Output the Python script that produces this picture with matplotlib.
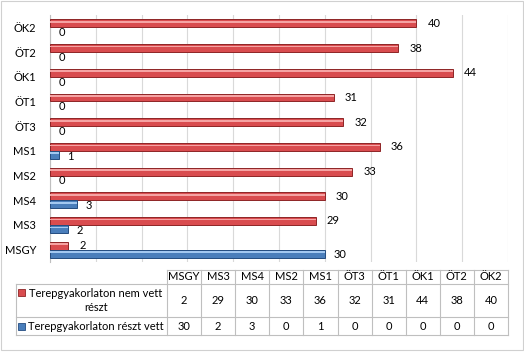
import matplotlib
matplotlib.use("Agg")
import matplotlib.pyplot as plt
from matplotlib.patches import Rectangle
from matplotlib.lines import Line2D

categories = ["MSGY", "MS3", "MS4", "MS2", "MS1", "ÖT3", "ÖT1", "ÖK1", "ÖT2", "ÖK2"]
not_attended = [2, 29, 30, 33, 36, 32, 31, 44, 38, 40]
attended = [30, 2, 3, 0, 1, 0, 0, 0, 0, 0]
series_names = ["Terepgyakorlaton nem vett\nrészt", "Terepgyakorlaton részt vett"]

plt.rcParams['font.family'] = ['Lato', 'DejaVu Sans']
FS = 8

W, H = 524, 352
fig = plt.figure(figsize=(W / 100, H / 100), dpi=100)

def fx(px):
    return px / W

def fy(py):
    return 1 - py / H

# main axes in pixel box
left, right, top, bottom = 50, 508, 15, 262
ax = fig.add_axes([fx(left), fy(bottom), fx(right - left), (bottom - top) / H])

red, red_edge, red_hi = "#D94C4F", "#8E2426", "#F5A3A3"
blue, blue_edge, blue_hi = "#4A7EBB", "#244C80", "#A3C8F0"

n = len(categories)
ys = list(range(n))
bh = 0.32
y_red = [y + bh / 2 for y in ys]
y_blue = [y - bh / 2 for y in ys]

def draw(yv, vals, col, ec, hi):
    lw = [0.7 if v > 0 else 0 for v in vals]
    ax.barh(yv, vals, height=bh, color=col, edgecolor=ec, linewidth=lw, zorder=3)
    ax.barh([y + 0.06 for y in yv], vals, height=bh * 0.22, color=hi, linewidth=0, zorder=4)

draw(y_red, not_attended, red, red_edge, red_hi)
draw(y_blue, attended, blue, blue_edge, blue_hi)

for y, v in zip(y_red, not_attended):
    ax.annotate(str(v), (v, y), xytext=(8, 0), textcoords="offset points",
                va="center", ha="left", fontsize=FS, color="#000000")
for y, v in zip(y_blue, attended):
    ax.annotate(str(v), (v, y), xytext=(6, -1), textcoords="offset points",
                va="center", ha="left", fontsize=FS, color="#000000")

ax.set_xlim(0, 50)
ax.set_ylim(-0.5, n - 0.5)
ax.set_xticks(range(0, 51, 5))
ax.set_xticklabels([])
ax.tick_params(axis="x", length=0)
ax.set_yticks(ys)
ax.set_yticklabels(categories, fontsize=FS)
ax.tick_params(axis="y", length=0, pad=10)
ax.grid(axis="x", color="#D9D9D9", linewidth=0.8, zorder=0)
for s in ["top", "right", "bottom"]:
    ax.spines[s].set_visible(False)
ax.spines["left"].set_color("#BFBFBF")
ax.spines["left"].set_linewidth(0.8)
ax.set_facecolor("none")

# data table
grid_c = "#BFBFBF"
tx0, tx1 = 16, 167
xr = 508
col_w = (xr - tx1) / n
ty = [270, 284, 317, 335]

def hline(x0, x1, y):
    fig.add_artist(Line2D([fx(x0), fx(x1)], [fy(y), fy(y)], color=grid_c, linewidth=0.8))

def vline(x, y0, y1):
    fig.add_artist(Line2D([fx(x), fx(x)], [fy(y0), fy(y1)], color=grid_c, linewidth=0.8))

hline(tx1, xr, ty[0])
for yy in ty[1:]:
    hline(tx0, xr, yy)
vline(tx0, ty[1], ty[3])
for i in range(n + 1):
    vline(tx1 + i * col_w, ty[0], ty[3])

for i, c in enumerate(categories):
    cx = tx1 + (i + 0.5) * col_w
    fig.text(fx(cx), fy((ty[0] + ty[1]) / 2), c, ha="center", va="center", fontsize=FS)
    fig.text(fx(cx), fy((ty[1] + ty[2]) / 2), str(not_attended[i]), ha="center", va="center", fontsize=FS)
    fig.text(fx(cx), fy((ty[2] + ty[3]) / 2), str(attended[i]), ha="center", va="center", fontsize=FS)

# legend keys and row labels
for (row_top, row_bot), name, col, ec in [((ty[1], ty[2]), series_names[0], red, red_edge),
                                          ((ty[2], ty[3]), series_names[1], blue, blue_edge)]:
    mid = (row_top + row_bot) / 2
    key_y = row_top + 8.5 if "\n" in name else mid
    fig.add_artist(Rectangle((fx(18), fy(key_y + 3.5)), fx(7), 7 / H, facecolor=col,
                             edgecolor=ec, linewidth=0.6))
    fig.text(fx(96), fy(mid), name, ha="center", va="center", fontsize=FS,
             linespacing=1.35, multialignment="center")

# outer frame
fig.add_artist(Rectangle((fx(1), fy(350)), fx(522), 349 / H, facecolor="none",
                         edgecolor="#D0D0D0", linewidth=0.8))

fig.savefig("out.png", dpi=100)
